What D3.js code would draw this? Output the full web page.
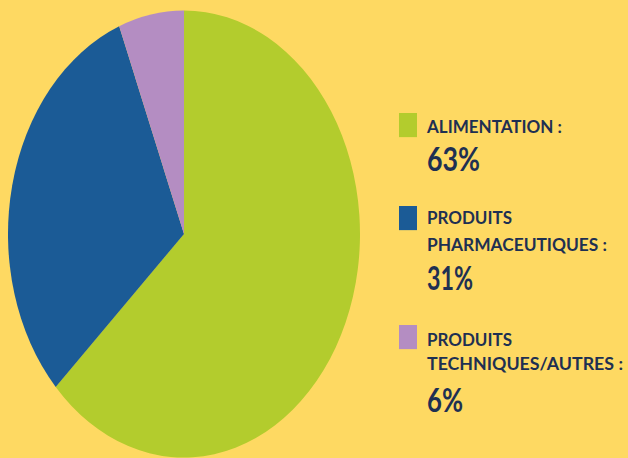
<!DOCTYPE html>
<html>
<head>
<meta charset="utf-8">
<script src="https://cdn.jsdelivr.net/npm/d3@7"></script>
<style>
  html, body { margin: 0; padding: 0; background: #FED962; }
  svg { display: block; }
</style>
</head>
<body>
<svg id="chart" width="628" height="458"></svg>
<script>
// Répartition par catégorie de produits
const categories = ["Alimentation", "Produits pharmaceutiques", "Produits techniques/autres"];
const values = [63, 31, 6];
const colors = ["#B3CC2D", "#1B5B96", "#B48DC2"];
const labelLines = [
  ["ALIMENTATION :"],
  ["PRODUITS", "PHARMACEUTIQUES :"],
  ["PRODUITS", "TECHNIQUES/AUTRES :"]
];
const lineWidths = [[135], [85, 180], [85, 196]];
const pctWidths = [53, 46, 36];

const W = 628, H = 458;
const sy = 1.27; // vertical stretch of the whole figure

const svg = d3.select("#chart");
svg.append("rect").attr("width", W).attr("height", H).attr("fill", "#FED962");

const g = svg.append("g").attr("transform", `scale(1,${sy})`);

// Pie
const radius = 176;
const cx = 184, cy = 234 / sy;
const pie = d3.pie().sort(null).value(d => d)(values);
const arc = d3.arc().innerRadius(0).outerRadius(radius);

g.append("g")
  .attr("transform", `translate(${cx},${cy})`)
  .selectAll("path")
  .data(pie)
  .join("path")
  .attr("d", arc)
  .attr("fill", (d, i) => colors[i]);

// Legend
const textColor = "#1E3052";
const legendX = 399, textX = 427;
const squareY = [113, 206, 325].map(v => v / sy);
const lineBase = [[133], [224, 251], [346, 370]].map(a => a.map(v => v / sy));
const pctBase = [171, 290, 412].map(v => v / sy);

const leg = g.append("g");
categories.forEach((c, i) => {
  leg.append("rect")
    .attr("x", legendX).attr("y", squareY[i])
    .attr("width", 18).attr("height", 19)
    .attr("fill", colors[i]);

  labelLines[i].forEach((t, j) => {
    leg.append("text")
      .attr("x", textX).attr("y", lineBase[i][j])
      .attr("font-family", "Lato, 'DejaVu Sans', sans-serif")
      .attr("font-weight", 700)
      .attr("font-size", 13)
      .attr("fill", textColor)
      .attr("textLength", lineWidths[i][j])
      .attr("lengthAdjust", "spacingAndGlyphs")
      .text(t);
  });

  leg.append("text")
    .attr("x", textX).attr("y", pctBase[i])
    .attr("font-family", "Lato, 'DejaVu Sans', sans-serif")
    .attr("font-weight", 700)
    .attr("font-size", 25)
    .attr("fill", textColor)
    .attr("textLength", pctWidths[i])
    .attr("lengthAdjust", "spacingAndGlyphs")
    .text(values[i] + "%");
});
</script>
</body>
</html>
